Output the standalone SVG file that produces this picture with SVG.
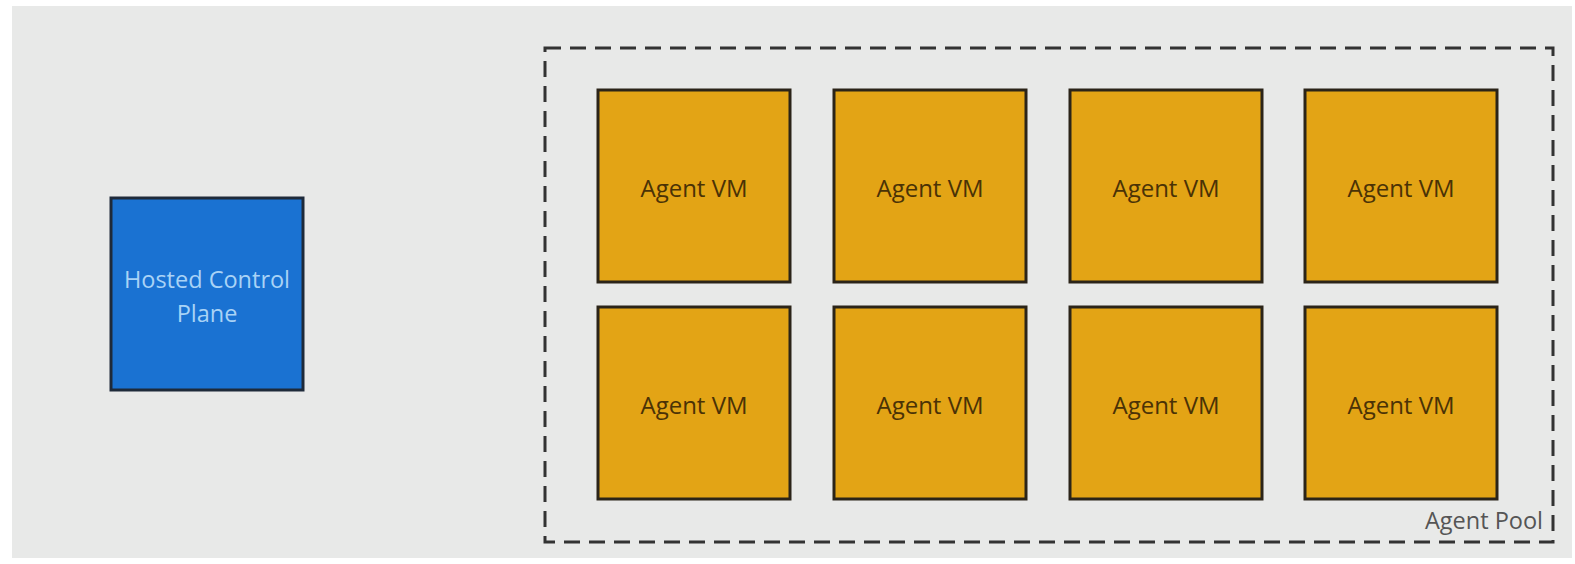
<svg xmlns="http://www.w3.org/2000/svg" width="1575" height="564" viewBox="0 0 1575 564">
  <style>
    .vm rect { fill: #e3a415; stroke: #2b2418; stroke-width: 3; }
    .vm text { font-family: "Open Sans", "Noto Sans", sans-serif; font-size: 24px; font-weight: 500; fill: #4a3206; text-anchor: middle; }
    .cp rect { fill: #1a72d2; stroke: #1e2a3a; stroke-width: 3; }
    .cp text { font-family: "Open Sans", "Noto Sans", sans-serif; font-size: 23.5px; font-weight: 500; fill: #a9d3f6; text-anchor: middle; }
    .pool rect { fill: none; stroke: #333333; stroke-width: 3; stroke-dasharray: 16 9; }
    .pool text { font-family: "Open Sans", "Noto Sans", sans-serif; font-size: 23.5px; fill: #555555; text-anchor: end; }
  </style>
  <rect width="1575" height="564" fill="#ffffff"/>
  <rect x="12" y="6" width="1560" height="552" fill="#e8e9e8"/>

  <g id="hosted-control-plane" class="cp">
    <rect x="111" y="198" width="192" height="192"/>
    <text x="207" y="288">Hosted Control</text>
    <text x="207" y="322">Plane</text>
  </g>

  <g id="agent-pool" class="pool">
    <rect x="545" y="48" width="1008" height="494"/>
    <text x="1543" y="529">Agent Pool</text>
  </g>

  <g id="vm-1" class="vm"><rect x="598" y="90" width="192" height="192"/><text x="694" y="197">Agent VM</text></g>
  <g id="vm-2" class="vm"><rect x="834" y="90" width="192" height="192"/><text x="930" y="197">Agent VM</text></g>
  <g id="vm-3" class="vm"><rect x="1070" y="90" width="192" height="192"/><text x="1166" y="197">Agent VM</text></g>
  <g id="vm-4" class="vm"><rect x="1305" y="90" width="192" height="192"/><text x="1401" y="197">Agent VM</text></g>
  <g id="vm-5" class="vm"><rect x="598" y="307" width="192" height="192"/><text x="694" y="414">Agent VM</text></g>
  <g id="vm-6" class="vm"><rect x="834" y="307" width="192" height="192"/><text x="930" y="414">Agent VM</text></g>
  <g id="vm-7" class="vm"><rect x="1070" y="307" width="192" height="192"/><text x="1166" y="414">Agent VM</text></g>
  <g id="vm-8" class="vm"><rect x="1305" y="307" width="192" height="192"/><text x="1401" y="414">Agent VM</text></g>

  <g id="connectors"/>
</svg>
